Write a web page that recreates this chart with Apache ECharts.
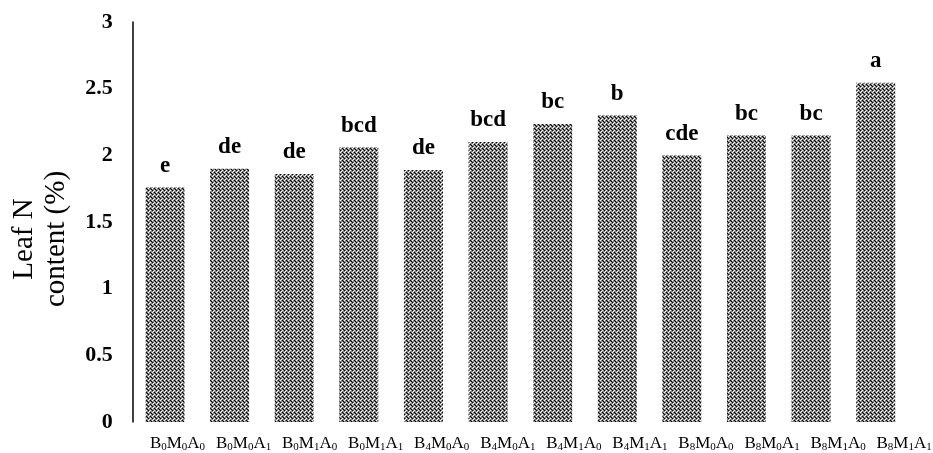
<!DOCTYPE html>
<html>
<head>
<meta charset="utf-8">
<script src="https://cdn.jsdelivr.net/npm/echarts@6/dist/echarts.min.js"></script>
<style>html,body{margin:0;padding:0;background:#fff}#c{width:933px;height:453px}</style>
</head>
<body>
<div id="c"></div>
<script>
const categories = ['B0M0A0','B0M0A1','B0M1A0','B0M1A1','B4M0A0','B4M0A1','B4M1A0','B4M1A1','B8M0A0','B8M0A1','B8M1A0','B8M1A1'];
const values = [1.76, 1.90, 1.86, 2.06, 1.89, 2.10, 2.235, 2.30, 2.00, 2.15, 2.15, 2.545];
const letters = ['e','de','de','bcd','de','bcd','bc','b','cde','bc','bc','a'];
const yTicks = ['0','0.5','1','1.5','2','2.5','3'];

const pc = document.createElement('canvas');
pc.width = 4; pc.height = 4;
const g = pc.getContext('2d');
g.fillStyle = '#828282'; g.fillRect(0,0,4,4);
g.fillStyle = '#ffffff'; g.fillRect(0,0,1,1); g.fillRect(2,2,1,1); g.fillRect(1,3,1,1);
g.fillStyle = '#000000'; g.fillRect(2,0,1,1); g.fillRect(0,2,1,1); g.fillRect(3,1,1,1);

const chart = echarts.init(document.getElementById('c'));
const serif = '"Liberation Serif","Times New Roman",serif';
function fmtCat(c) {
  return 'B{s|' + c[1] + '}M{s|' + c[3] + '}A{s|' + c[5] + '}';
}
// labels in the original sit slightly right of their bars, drifting further right
const catData = categories.map((c, i) => ({
  value: c,
  textStyle: {padding: [0, 0, 0, 2 * (12.5 + 1.45 * i)]}
}));
chart.setOption({
  animation: false,
  grid: {left: 132.7, right: 25, top: 22, bottom: 31, outerBoundsMode: 'none', containLabel: false},
  xAxis: {
    type: 'category',
    data: catData,
    axisLine: {show: false},
    axisTick: {show: false},
    axisLabel: {
      interval: 0, margin: 12,
      formatter: fmtCat,
      color: '#000', fontFamily: serif, fontSize: 17,
      rich: {s: {fontSize: 11, fontFamily: serif, color: '#000', verticalAlign: 'bottom', padding: [8,0,0,0]}}
    }
  },
  yAxis: {
    type: 'value', min: 0, max: 3, interval: 0.5,
    name: 'Leaf N\ncontent (%)',
    nameLocation: 'middle', nameGap: 60, nameRotate: 90,
    nameTextStyle: {fontFamily: serif, fontSize: 29, color: '#000', lineHeight: 32, padding: [0, 34, 0, 0]},
    axisLine: {show: true, lineStyle: {color: '#000', width: 1.5}},
    axisTick: {show: false},
    splitLine: {show: false},
    axisLabel: {
      margin: 20, color: '#000', fontFamily: serif, fontSize: 22, fontWeight: 'bold',
      formatter: v => yTicks[Math.round(v * 2)]
    }
  },
  series: [{
    type: 'bar',
    data: values,
    barWidth: 39,
    itemStyle: {color: {image: pc, repeat: 'repeat'}},
    label: {
      show: true, position: 'top', distance: 10,
      formatter: p => letters[p.dataIndex],
      fontFamily: serif, fontSize: 23, fontWeight: 'bold', color: '#000'
    }
  }]
});
</script>
</body>
</html>
